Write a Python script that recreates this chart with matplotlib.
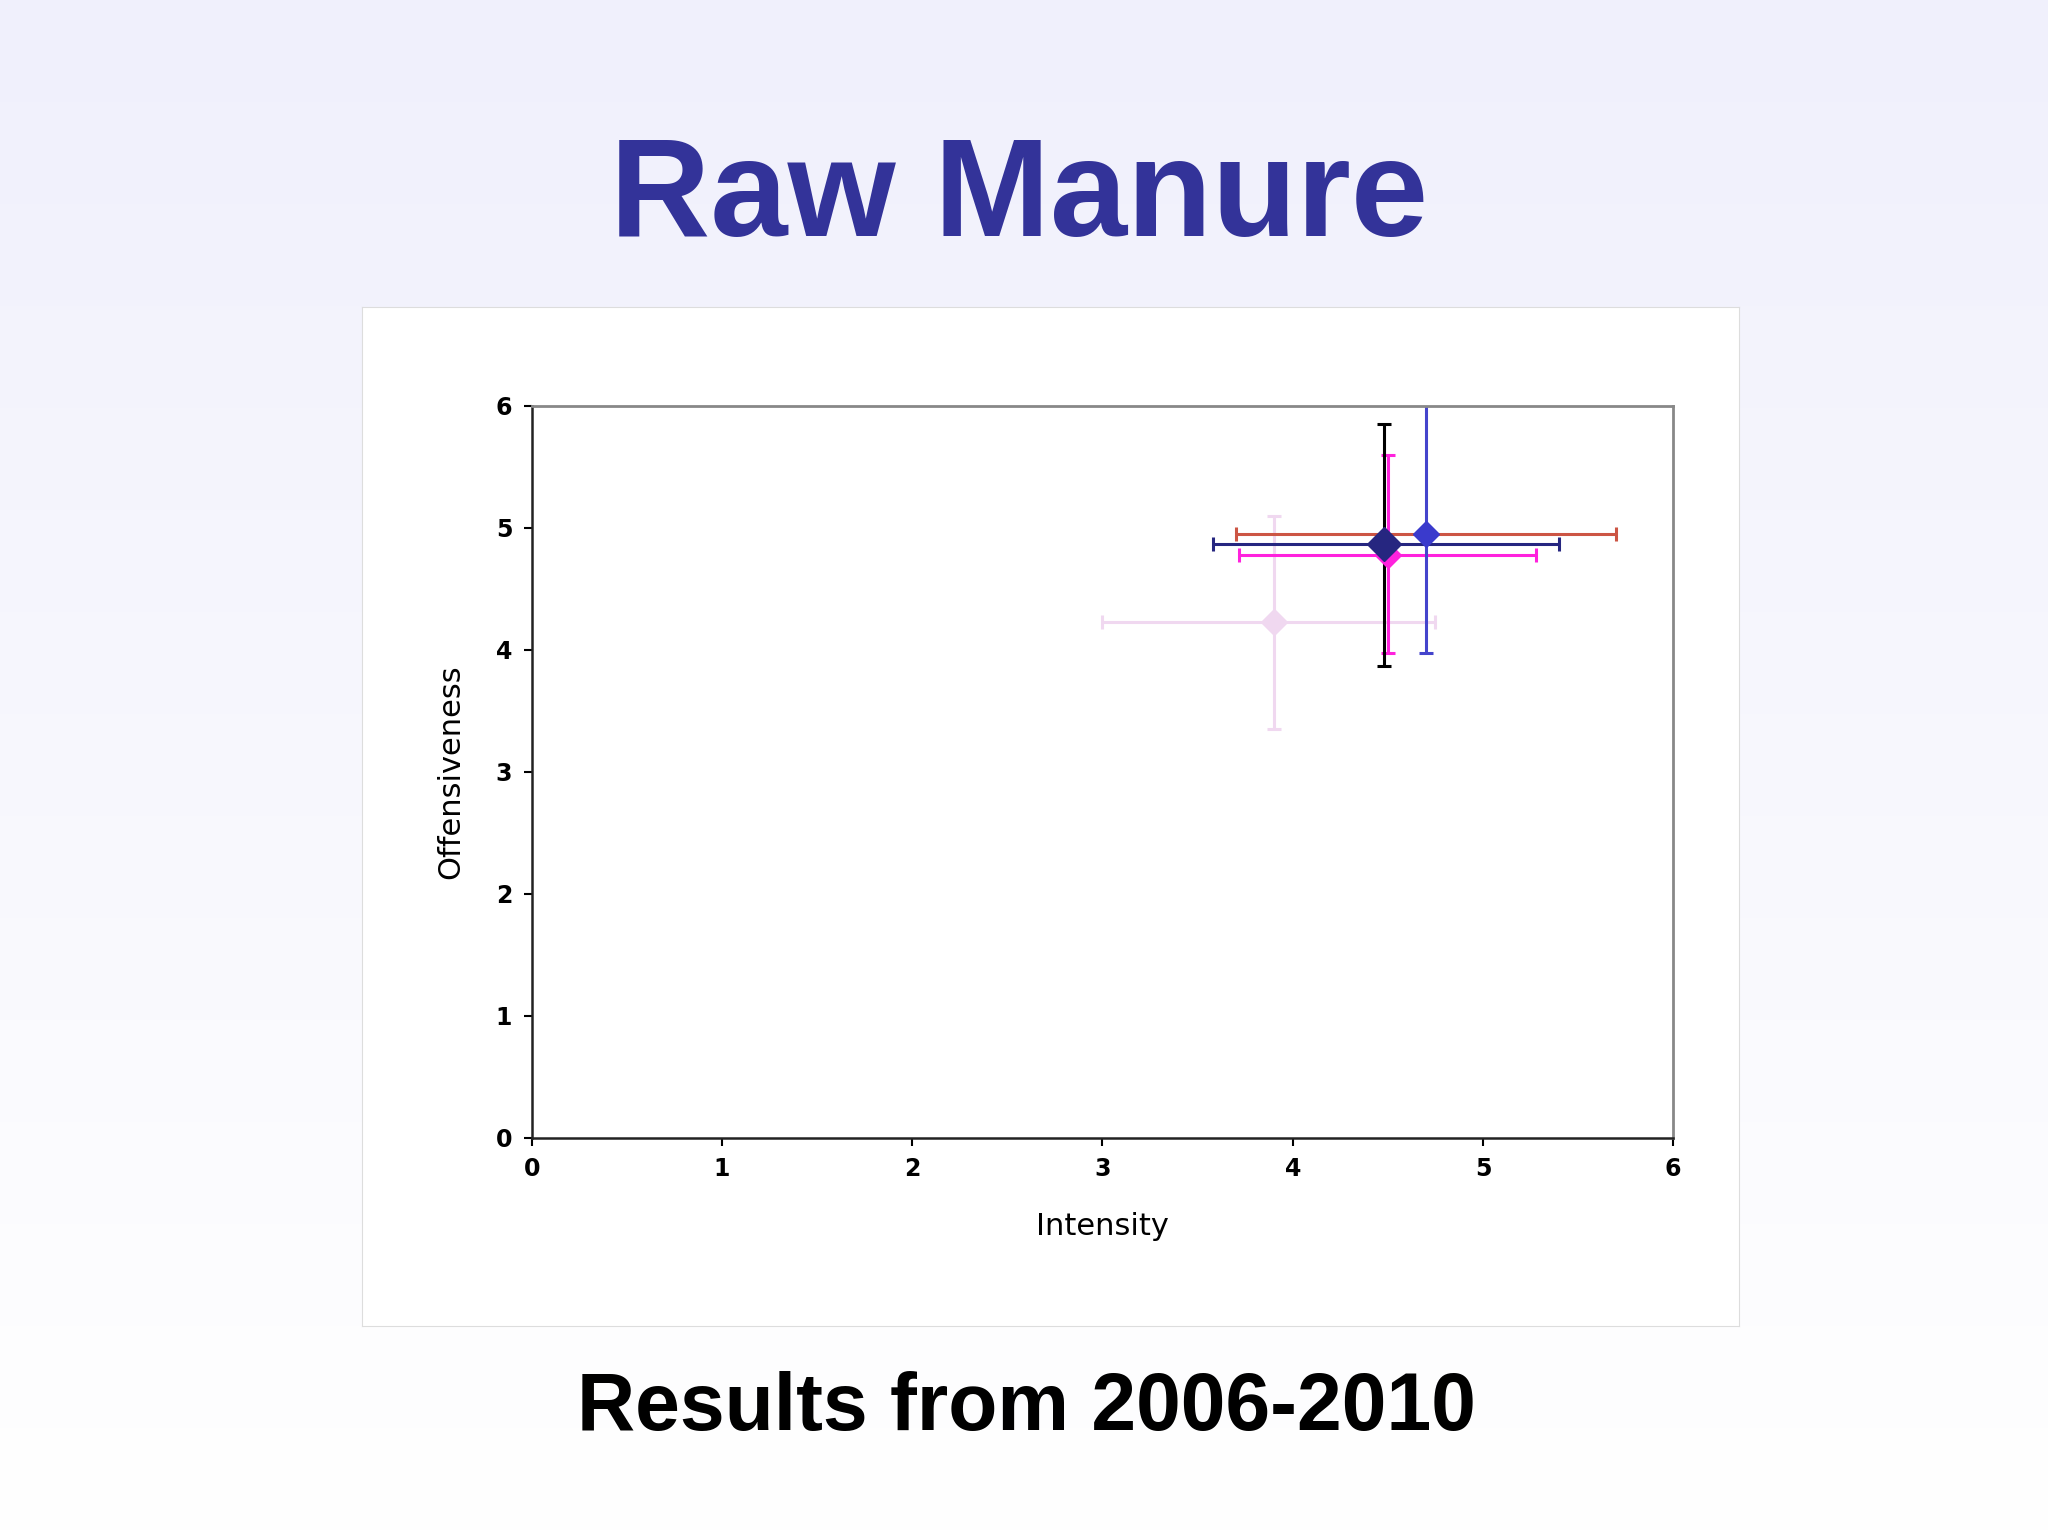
import numpy as np
import matplotlib
matplotlib.use("Agg")
import matplotlib.pyplot as plt

# series: (x, y, x_lo, x_hi, y_lo, y_hi)
x_vals = [3.9, 4.5, 4.48, 4.7]
y_vals = [4.23, 4.78, 4.87, 4.95]
x_lo = [3.0, 3.72, 3.58, 3.7]
x_hi = [4.75, 5.28, 5.4, 5.7]
y_lo = [3.35, 3.97, 3.87, 3.97]
y_hi = [5.1, 5.6, 5.85, 6.3]
marker_colors = ["#f0d8f0", "#ff22dd", "#262680", "#3a3acc"]
xerr_colors = ["#f0d8f0", "#ff22dd", "#262680", "#cc5544"]
yerr_colors = ["#f0d8f0", "#ff22dd", "#000000", "#4444cc"]
marker_sizes = [13, 13, 17, 13]

fig = plt.figure(figsize=(20.48, 15.36), dpi=100)
bg = fig.add_axes([0, 0, 1, 1])
grad = np.linspace(0, 1, 256).reshape(-1, 1)
bg.imshow(grad, aspect="auto", extent=[0, 1, 0, 1], origin="lower",
          cmap=matplotlib.colors.LinearSegmentedColormap.from_list("g", ["#ffffff", "#f0f0fc"]))
bg.axis("off")

panel = fig.add_axes([0.177, 0.137, 0.672, 0.663])
panel.set_facecolor("white")
panel.set_xticks([]); panel.set_yticks([])
for s in panel.spines.values():
    s.set_color("#dddddd")

ax = fig.add_axes([0.2596, 0.2594, 0.5574, 0.4763])
for i in range(len(x_vals)):
    xe = [[x_vals[i] - x_lo[i]], [x_hi[i] - x_vals[i]]]
    ye = [[y_vals[i] - y_lo[i]], [y_hi[i] - y_vals[i]]]
    ax.errorbar(x_vals[i], y_vals[i], xerr=xe, fmt="none", ecolor=xerr_colors[i],
                elinewidth=2.2, capsize=5, capthick=2.2)
    ax.errorbar(x_vals[i], y_vals[i], yerr=ye, fmt="none", ecolor=yerr_colors[i],
                elinewidth=2.2, capsize=5, capthick=2.2)
for i in range(len(x_vals)):
    ax.plot(x_vals[i], y_vals[i], "D", color=marker_colors[i], ms=marker_sizes[i], zorder=5)

ax.set_xlim(0, 6)
ax.set_ylim(0, 6)
ax.set_xticks(range(7))
ax.set_yticks(range(7))
ax.tick_params(labelsize=17, direction="out", length=6, width=1.5, pad=8)
for lab in ax.get_xticklabels() + ax.get_yticklabels():
    lab.set_fontweight("bold")
for side in ["top", "right"]:
    ax.spines[side].set_color("#888888")
    ax.spines[side].set_linewidth(2)
for side in ["left", "bottom"]:
    ax.spines[side].set_color("#222222")
    ax.spines[side].set_linewidth(1.8)
ax.set_xlabel("Intensity", fontsize=22, labelpad=22)
ax.set_ylabel("Offensiveness", fontsize=22, labelpad=22)

fig.text(0.4975, 0.87, "Raw Manure", ha="center", va="center", fontsize=100,
         fontweight="bold", color="#333399", family="Liberation Sans")
fig.text(0.501, 0.083, "Results from 2006-2010", ha="center", va="center", fontsize=58,
         fontweight="bold", color="black", family="Liberation Sans")

fig.savefig("out.png", dpi=100)
